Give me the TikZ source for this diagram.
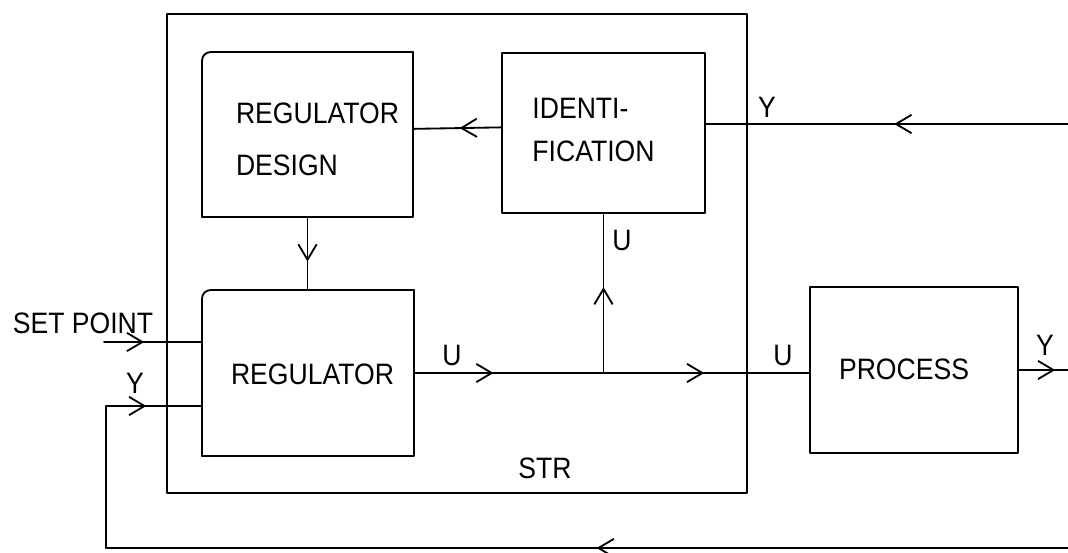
\documentclass[tikz,border=0pt]{standalone}
\usepackage{fontspec}
\setmainfont[FakeStretch=0.9]{Liberation Sans}
\usetikzlibrary{positioning, arrows.meta, decorations.markings}

\begin{document}
\begin{tikzpicture}[x=0.025cm, y=-0.025cm, line width=1.3pt, line join=round, line cap=round,
    >={Straight Barb[length=11pt,width=13pt]},
    box/.style={draw, inner sep=0pt},
    txt/.style={inner sep=0pt, align=left, font=\fontsize{21}{37}\selectfont},
    lbl/.style={inner sep=0pt, font=\fontsize{21}{24}\selectfont},
    flow/.style={postaction={decorate}, decoration={markings, mark=at position #1 with {\arrow{>}}}}]

    \useasboundingbox (0,0) rectangle (1068,553);

    % STR frame
    \node[draw, minimum width=14.5cm, minimum height=11.975cm] (str) at (457,253.5) {};
    \node[lbl] (strlbl) at (545,468) {STR};

    % Regulator design (top left corner rounded)
    \node[box, draw=none, minimum width=5.225cm, minimum height=4.075cm] (design) at (307.5,134.5) {};
    \draw[rounded corners=6pt] (design.south west) -- (design.north west) -- (design.north east);
    \draw (design.north east) -- (design.south east) -- (design.south west);
    \node[txt] (designtxt) at (317.5,139) {REGULATOR\\DESIGN};

    % Identification
    \node[box, minimum width=5.075cm, minimum height=4cm] (ident) at (603.5,133) {};
    \node[txt, font=\fontsize{21}{31}\selectfont] (identtxt) at (593.5,130) {IDENTI-\\FICATION};

    % Regulator (top left corner rounded)
    \node[box, draw=none, minimum width=5.25cm, minimum height=4.1cm] (reg) at (308,373) {};
    \draw[rounded corners=6pt] (reg.south west) -- (reg.north west) -- (reg.north east);
    \draw (reg.north east) -- (reg.south east) -- (reg.south west);
    \node[txt] (regtxt) at (312.5,374) {REGULATOR};

    % Process
    \node[box, minimum width=5.2cm, minimum height=4.15cm] (proc) at (914,370) {};
    \node[txt] (proctxt) at (904,369) {PROCESS};

    % Identification -> design
    \draw[flow=0.47] ([yshift=4pt]ident.west) -- ([yshift=4pt]design.east);

    % Y coming in from the right
    \coordinate (yin) at (1068,124);
    \draw[flow=0.48] (yin) -- (yin -| ident.east);
    \node[lbl] (ylbl1) at (767,107) {Y};

    % Design -> regulator
    \draw[flow=0.61] (design.south) -- (design.south |- reg.north);

    % U from regulator
    \coordinate (jn) at (ident.south |- reg.east);
    \draw[flow=0.42] (reg.east) -- (jn);
    \draw[flow=0.49] (jn) -- (jn -| proc.west);
    \draw[flow=0.54] (jn) -- (ident.south);
    \node[lbl] (ulbl1) at (452,355) {U};
    \node[lbl] (ulbl2) at (622,240) {U};
    \node[lbl] (ulbl3) at (783,355) {U};

    % Y out of process
    \coordinate (yout) at (1068,370);
    \draw[flow=0.74] (proc.east) -- (yout);
    \node[lbl] (ylbl2) at (1045,345) {Y};

    % Feedback
    \coordinate (fbr) at (1068,548);
    \coordinate (fbl) at (106,548);
    \coordinate (fbu) at (106,406);
    \draw[flow=0.49] (fbr) -- (fbl);
    \draw (fbl) -- (fbu);
    \draw[flow=0.42] (fbu) -- (fbu -| reg.west);
    \node[lbl] (ylbl3) at (135,383) {Y};

    % Set point
    \coordinate (sp) at (104,342);
    \draw[flow=0.41] (sp) -- (sp -| reg.west);
    \node[lbl] (splbl) at (83,323) {SET POINT};
  \end{tikzpicture}
\end{document}
